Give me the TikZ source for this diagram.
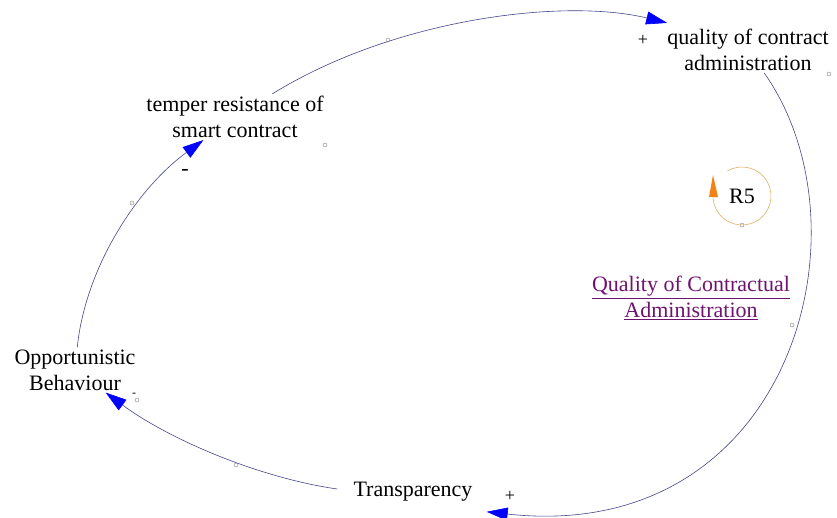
\documentclass[tikz,border=0pt]{standalone}
\usepackage{fontspec}
\setmainfont{Liberation Serif}
\usetikzlibrary{arrows.meta,positioning,calc}
\definecolor{linkblue}{RGB}{70,70,140}
\definecolor{tipblue}{RGB}{0,0,255}
\definecolor{looporange}{RGB}{225,175,100}
\definecolor{tiporange}{RGB}{245,130,20}
\definecolor{titlepurple}{RGB}{110,20,110}

\begin{document}
\begin{tikzpicture}[x=1pt, y=-1pt,
    var/.style={align=center, inner sep=2pt, font=\fontsize{22}{26}\selectfont},
    link/.style={linkblue, line width=0.6pt,
      -{Triangle[length=21pt, width=13pt, color=tipblue]}},
    handle/.style={gray, line width=0.4pt},
    sign/.style={font=\fontsize{18}{18}\selectfont}]
  % Cadre
  \fill[white] (0,0) rectangle (837,517);
  \useasboundingbox (0,0) rectangle (837,517);
  % Variables
  \node[var] (qual) at (748,50) {quality of contract\\administration};
  \node[var] (temper) at (235,117) {temper resistance of\\smart contract};
  \node[var] (opp) at (75,370) {Opportunistic\\Behaviour};
  \node[var] (transp) at (413,492) {Transparency};
  % Liens causaux
  \draw[link] (temper) .. controls (395,18) and (565,-2) .. ($(qual.north west)+(2,-4)$);
  \draw[link] (qual) .. controls (875,230) and (790,545) .. ($(transp.south east)+(12,8)$);
  \draw[link] ($(transp.west)+(-14,-3)$) .. controls (260,478) and (170,440) .. (opp);
  \draw[link] (opp) .. controls (85,270) and (135,190) .. (temper);
  % Poignees
  \foreach \p in {(388,40), (829,74), (325,145), (132,203), (236,465), (792,325), (742,225), (137,400)}
    \draw[handle] \p circle (2);
  % Polarites
  \node[sign] (s1) at (643,40) {+};
  \node[sign] (s2) at (510,496) {+};
  \node[var] (s3) at (185,172) {-};
  \node[sign, font=\fontsize{12}{12}\selectfont] (s4) at (134,395) {-};
  % Boucle R5
  \node[var] (r5) at (742,196) {R5};
  \draw[looporange, line width=0.6pt] ($(r5)+(240:29)$) arc[start angle=240, end angle=540, radius=29];
  \fill[tiporange] (709,197) -- (718,197) -- (713,175) -- cycle;
  \node[var, text=titlepurple] (cqa) at (691,298)
    {\underline{Quality of Contractual}\\\underline{Administration}};
\end{tikzpicture}
\end{document}
